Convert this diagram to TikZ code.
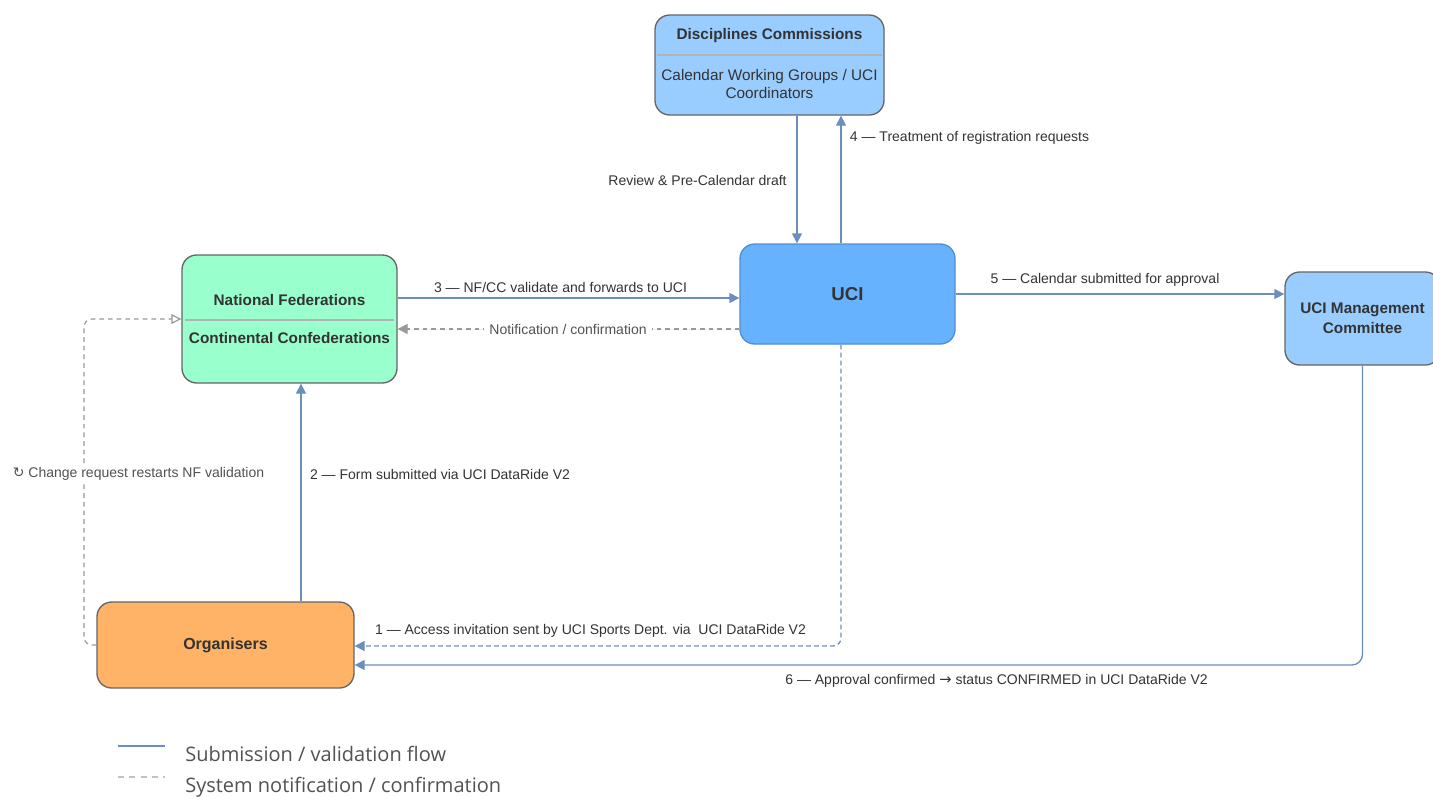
\documentclass[tikz,border=0pt]{standalone}
\usepackage{fontspec}
\setmainfont{Liberation Sans}
\newfontfamily\legendfont{Open Sans}
\newfontfamily\symfont{DejaVu Sans}
\usepackage{tikz}
\usetikzlibrary{arrows.meta, positioning}
\usepackage{xcolor}
\definecolor{txt}{HTML}{333333}
\definecolor{edge}{HTML}{666666}
\definecolor{flowblue}{HTML}{6C8EBF}
\definecolor{notegray}{HTML}{999999}
\definecolor{lightblue}{HTML}{99CCFF}
\definecolor{ucifill}{HTML}{66B2FF}
\definecolor{mint}{HTML}{99FFCC}
\definecolor{orangefill}{HTML}{FFB366}
\tikzset{
	box/.style={draw=edge, line width=1pt, rounded corners=11pt, inner sep=0pt, text=txt},
	title/.style={text=txt, font=\fontsize{11.5}{13}\selectfont\bfseries, align=center},
	sub/.style={text=txt, font=\fontsize{11.5}{13.5}\selectfont, align=center},
	divider/.style={draw=edge!50, line width=0.8pt},
	lbl/.style={text=txt, font=\fontsize{10.5}{12}\selectfont, inner sep=1pt},
	flow/.style={draw=flowblue, line width=1pt, -{Triangle[length=7.5pt,width=7.5pt]}},
	invite/.style={flow, dash pattern=on 3.5pt off 2.5pt},
	note/.style={draw=notegray, line width=0.9pt, dash pattern=on 3.5pt off 3pt, -{Triangle[length=7.5pt,width=7.5pt]}},
	legend/.style={text=txt!85, font=\legendfont\fontsize{15}{17}\selectfont, anchor=west, inner sep=0pt}
}

\begin{document}
\begin{tikzpicture}[x=0.75pt, y=-0.75pt]
		\fill[white] (0,0) rectangle (1433,797);
		\useasboundingbox (0,0) rectangle (1433,797);

		\node[box, fill=lightblue, minimum width=171.75pt, minimum height=75pt] (dc) at (769.5,65) {};
		\node[title] (dct) at (769.5,36) {Disciplines Commissions};
		\draw[divider] (657,55) -- (882,55);
		\node[sub] (dcs) at (769.5,84) {Calendar Working Groups / UCI\\Coordinators};

		\node[box, fill=mint, minimum width=161.25pt, minimum height=96pt] (nf) at (289.5,319) {};
		\node[title] (nft) at (289.5,300) {National Federations};
		\draw[divider] (185,320) -- (394,320);
		\node[title] (nfs) at (289.5,338) {Continental Confederations};

		\node[box, fill=ucifill, draw=ucifill!80!black, minimum width=161.25pt, minimum height=75pt, font=\fontsize{14}{16}\selectfont\bfseries] (uci) at (847.5,294) {UCI};

		\node[box, fill=lightblue, minimum width=116.25pt, minimum height=69.75pt, font=\fontsize{11.5}{15}\selectfont\bfseries, align=center] (mc) at (1362.5,318.5) {UCI Management\\Committee};

		\node[box, fill=orangefill, minimum width=192.75pt, minimum height=64.5pt, font=\fontsize{12}{14}\selectfont\bfseries] (org) at (225.5,645) {Organisers};

		\coordinate (rv) at (797,0);
		\coordinate (tr) at (841,0);
		\coordinate (v2) at (301,0);
		\coordinate (cl) at (84,0);
		\coordinate (h3) at (0,298);
		\coordinate (hn) at (0,329);
		\coordinate (h1) at (0,646);
		\coordinate (h6) at (0,665);

		\draw[flow] (dc.south -| rv) -- (uci.north -| rv);
		\draw[flow] (uci.north -| tr) -- (dc.south -| tr);
		\draw[flow] (nf.east |- h3) -- (uci.west |- h3);
		\draw[note, fill=notegray] (uci.west |- hn) -- (nf.east |- hn);
		\draw[flow] (uci.east) -- (mc.west |- uci.east);
		\draw[flow, rounded corners=8pt] (mc.south) |- (org.east |- h6);
		\draw[invite, rounded corners=6pt] (uci.south -| tr) |- (org.east |- h1);
		\draw[flow] (org.north -| v2) -- (nf.south -| v2);
		\draw[note, -{Triangle[open, length=7.5pt, width=7.5pt]}, rounded corners=6pt] (org.west) -- (org.west -| cl) |- (nf.west);

		\node[lbl] (lrev) at (697.5,180) {Review \& Pre-Calendar draft};
		\node[lbl] (l4) at (969.5,138) {4 — Treatment of registration requests};
		\node[lbl] (l3) at (560.5,287) {3 — NF/CC validate and forwards to UCI};
		\node[lbl, fill=white, text=txt!85, inner xsep=4pt] (lnote) at (568,329) {Notification / confirmation};
		\node[lbl] (l5) at (1105,280) {5 — Calendar submitted for approval};
		\node[lbl] (l2) at (440,474) {2 — Form submitted via UCI DataRide V2};
		\node[lbl, fill=white, text=txt!85] (lchg) at (138.5,474) {{\symfont ↻} Change request restarts NF validation};
		\node[lbl] (l1) at (590.5,631) {1 — Access invitation sent by UCI Sports Dept. via\ \ UCI DataRide V2};
		\node[lbl] (l6) at (996.5,681) {6 — Approval confirmed {\symfont\fontsize{11}{12}\selectfont →} status CONFIRMED in UCI DataRide V2};

		\draw[draw=flowblue, line width=1.6pt] (118,746) -- (165,746);
		\draw[draw=notegray!60, line width=1.2pt, dash pattern=on 4.5pt off 4pt] (118,777) -- (165,777);
		\node[legend] (leg1) at (185,754) {Submission / validation flow};
		\node[legend] (leg2) at (185,787) {System notification / confirmation};
	\end{tikzpicture}
\end{document}
